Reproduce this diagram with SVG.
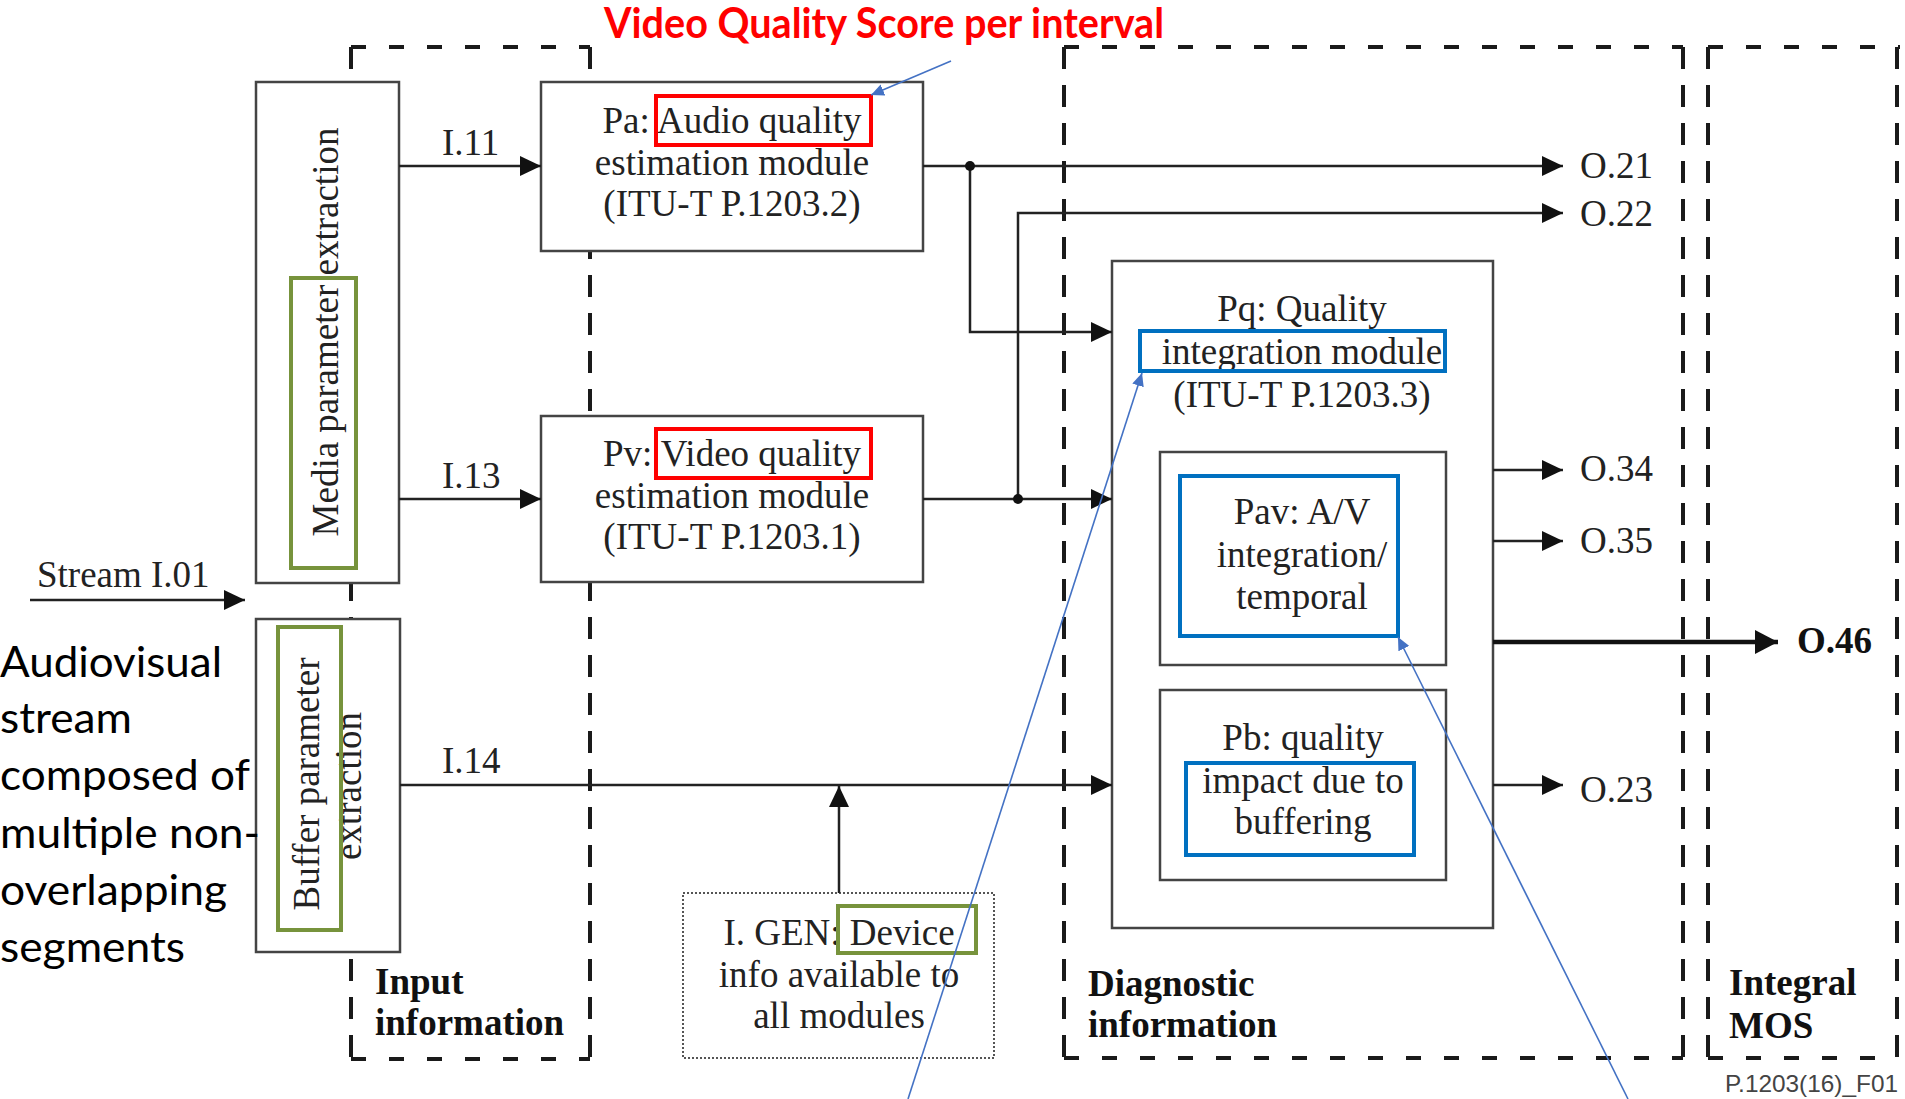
<svg xmlns="http://www.w3.org/2000/svg" width="1905" height="1099" viewBox="0 0 1905 1099">
<defs>
<style>
.bg{fill:#fff}
.dh{stroke:#1a1a1a;stroke-width:4;stroke-dasharray:15 23;fill:none}
.dv{stroke:#1a1a1a;stroke-width:4;stroke-dasharray:22 16;fill:none}
.box{fill:#fff;stroke:#444;stroke-width:2.5}
.dot{fill:#fff;stroke:#555;stroke-width:2;stroke-dasharray:2 2}
.ln{stroke:#222;stroke-width:2.5;fill:none}
.thick{stroke:#111;stroke-width:4.5;fill:none}
.t{font-family:"Liberation Serif","Times New Roman",serif;font-size:37px;fill:#222}
.tb{font-family:"Liberation Serif","Times New Roman",serif;font-size:37px;font-weight:bold;fill:#111}
.m{text-anchor:middle}
.red{fill:none;stroke:#ff0000;stroke-width:4}
.grn{fill:none;stroke:#77933c;stroke-width:4}
.blu{fill:none;stroke:#0070c0;stroke-width:4}
.ann{stroke:#4472c4;stroke-width:1.6;fill:none}
.cal{font-family:Lato,"Open Sans",sans-serif;font-size:42px;fill:#000}
</style>
<marker id="ah" markerUnits="userSpaceOnUse" markerWidth="22" markerHeight="20" refX="21" refY="10" orient="auto">
<path d="M0,0 L21,10 L0,20 Z" fill="#111"/>
</marker>
<marker id="ahb" markerUnits="userSpaceOnUse" markerWidth="24" markerHeight="24" refX="23" refY="12" orient="auto">
<path d="M0,0 L23,12 L0,24 Z" fill="#111"/>
</marker>
<marker id="ab" markerUnits="userSpaceOnUse" markerWidth="14" markerHeight="12" refX="13" refY="6" orient="auto">
<path d="M0,0 L13,6 L0,12 Z" fill="#4472c4"/>
</marker>
</defs>
<rect class="bg" x="0" y="0" width="1905" height="1099"/>

<g id="regions">
<g id="input-region">
<line class="dh" x1="351" y1="47" x2="590" y2="47"/>
<line class="dh" x1="351" y1="1059" x2="590" y2="1059"/>
<line class="dv" x1="351" y1="47" x2="351" y2="1059"/>
<line class="dv" x1="590" y1="47" x2="590" y2="1059"/>
<text class="tb" x="375" y="994">Input</text>
<text class="tb" x="375" y="1035">information</text>
</g>
<g id="diagnostic-region">
<line class="dh" x1="1064" y1="47" x2="1683" y2="47"/>
<line class="dh" x1="1064" y1="1058" x2="1683" y2="1058"/>
<line class="dv" x1="1064" y1="47" x2="1064" y2="1058"/>
<line class="dv" x1="1683" y1="47" x2="1683" y2="1058"/>
<text class="tb" x="1088" y="996">Diagnostic</text>
<text class="tb" x="1088" y="1037">information</text>
</g>
<g id="integral-region">
<line class="dh" x1="1708" y1="47" x2="1900" y2="47"/>
<line class="dh" x1="1708" y1="1058" x2="1897" y2="1058"/>
<line class="dv" x1="1708" y1="47" x2="1708" y2="1058"/>
<line class="dv" x1="1897" y1="47" x2="1897" y2="1058"/>
<text class="tb" x="1729" y="995">Integral</text>
<text class="tb" x="1729" y="1038">MOS</text>
</g>
</g>

<g id="media-extraction">
<rect class="box" x="256" y="82" width="143" height="501"/>
<text class="t m" transform="translate(338,332) rotate(-90)">Media parameter extraction</text>
<rect class="grn" x="291" y="278" width="65" height="290"/>
</g>

<g id="buffer-extraction">
<rect class="box" x="256" y="619" width="144" height="333"/>
<text class="t m" transform="translate(319,784) rotate(-90)">Buffer parameter</text>
<text class="t m" transform="translate(361,786) rotate(-90)">extraction</text>
<rect class="grn" x="278" y="627" width="63" height="303"/>
</g>

<g id="pa">
<rect class="box" x="541" y="82" width="382" height="169"/>
<text class="t m" x="732" y="133">Pa: Audio quality</text>
<text class="t m" x="732" y="175">estimation module</text>
<text class="t m" x="732" y="216">(ITU-T P.1203.2)</text>
<rect class="red" x="656" y="96" width="215" height="49"/>
</g>

<g id="pv">
<rect class="box" x="541" y="416" width="382" height="166"/>
<text class="t m" x="732" y="466">Pv: Video quality</text>
<text class="t m" x="732" y="508">estimation module</text>
<text class="t m" x="732" y="549">(ITU-T P.1203.1)</text>
<rect class="red" x="656" y="429" width="215" height="49"/>
</g>

<g id="igen">
<rect class="dot" x="683" y="893" width="311" height="165"/>
<text class="t m" x="839" y="945">I. GEN: Device</text>
<text class="t m" x="839" y="987">info available to</text>
<text class="t m" x="839" y="1028">all modules</text>
<rect class="grn" x="838" y="906" width="138" height="47"/>
</g>

<g id="pq">
<rect class="box" x="1112" y="261" width="381" height="667"/>
<text class="t m" x="1302" y="321">Pq: Quality</text>
<text class="t m" x="1302" y="364">integration module</text>
<text class="t m" x="1302" y="407">(ITU-T P.1203.3)</text>
<rect class="blu" x="1140" y="331" width="305" height="40"/>
</g>

<g id="pav">
<rect class="box" x="1160" y="452" width="286" height="213"/>
<text class="t m" x="1302" y="524">Pav: A/V</text>
<text class="t m" x="1302" y="567">integration/</text>
<text class="t m" x="1302" y="609">temporal</text>
<rect class="blu" x="1180" y="476" width="218" height="160"/>
</g>

<g id="pb">
<rect class="box" x="1160" y="690" width="286" height="190"/>
<text class="t m" x="1303" y="750">Pb: quality</text>
<text class="t m" x="1303" y="793">impact due to</text>
<text class="t m" x="1303" y="834">buffering</text>
<rect class="blu" x="1186" y="763" width="228" height="92"/>
</g>

<g id="connectors">
<line class="ln" x1="30" y1="600" x2="245" y2="600" marker-end="url(#ah)"/>
<line class="ln" x1="399" y1="166" x2="541" y2="166" marker-end="url(#ah)"/>
<line class="ln" x1="399" y1="499" x2="541" y2="499" marker-end="url(#ah)"/>
<line class="ln" x1="400" y1="785" x2="1112" y2="785" marker-end="url(#ah)"/>
<line class="ln" x1="839" y1="893" x2="839" y2="786" marker-end="url(#ah)"/>
<line class="ln" x1="923" y1="166" x2="1563" y2="166" marker-end="url(#ah)"/>
<polyline class="ln" points="970,166 970,332 1112,332" marker-end="url(#ah)"/>
<line class="ln" x1="923" y1="499" x2="1112" y2="499" marker-end="url(#ah)"/>
<polyline class="ln" points="1018,499 1018,213 1563,213" marker-end="url(#ah)"/>
<line class="ln" x1="1493" y1="470" x2="1563" y2="470" marker-end="url(#ah)"/>
<line class="ln" x1="1493" y1="541" x2="1563" y2="541" marker-end="url(#ah)"/>
<line class="ln" x1="1493" y1="785" x2="1563" y2="785" marker-end="url(#ah)"/>
<line class="thick" x1="1493" y1="642" x2="1778" y2="642" marker-end="url(#ahb)"/>
<circle cx="970" cy="166" r="5" fill="#111"/>
<circle cx="1018" cy="499" r="5" fill="#111"/>
<text class="t" x="37" y="587">Stream I.01</text>
<text class="t" x="442" y="155">I.11</text>
<text class="t" x="442" y="488">I.13</text>
<text class="t" x="442" y="773">I.14</text>
<text class="t" x="1580" y="178">O.21</text>
<text class="t" x="1580" y="226">O.22</text>
<text class="t" x="1580" y="481">O.34</text>
<text class="t" x="1580" y="553">O.35</text>
<text class="t" x="1580" y="802">O.23</text>
<text class="tb" x="1797" y="653">O.46</text>
</g>

<g id="annotations">
<text x="604" y="38" font-family="Lato,'Open Sans',sans-serif" font-size="42" font-weight="bold" fill="#ff0000" textLength="560" lengthAdjust="spacingAndGlyphs">Video Quality Score per interval</text>
<line class="ann" x1="951" y1="61" x2="871" y2="95" marker-end="url(#ab)"/>
<line class="ann" x1="908" y1="1099" x2="1142" y2="373" marker-end="url(#ab)"/>
<line class="ann" x1="1628" y1="1099" x2="1398" y2="637" marker-end="url(#ab)"/>
<text class="cal" x="0" y="677" textLength="222" lengthAdjust="spacingAndGlyphs">Audiovisual</text>
<text class="cal" x="0" y="733" textLength="132" lengthAdjust="spacingAndGlyphs">stream</text>
<text class="cal" x="0" y="790" textLength="250" lengthAdjust="spacingAndGlyphs">composed of</text>
<text class="cal" x="0" y="848" textLength="260" lengthAdjust="spacingAndGlyphs">multiple non-</text>
<text class="cal" x="0" y="905" textLength="227" lengthAdjust="spacingAndGlyphs">overlapping</text>
<text class="cal" x="0" y="962" textLength="185" lengthAdjust="spacingAndGlyphs">segments</text>
<text x="1725" y="1092" font-family="'Liberation Sans',Arial,sans-serif" font-size="24" fill="#444" textLength="173" lengthAdjust="spacingAndGlyphs">P.1203(16)_F01</text>
</g>
</svg>
